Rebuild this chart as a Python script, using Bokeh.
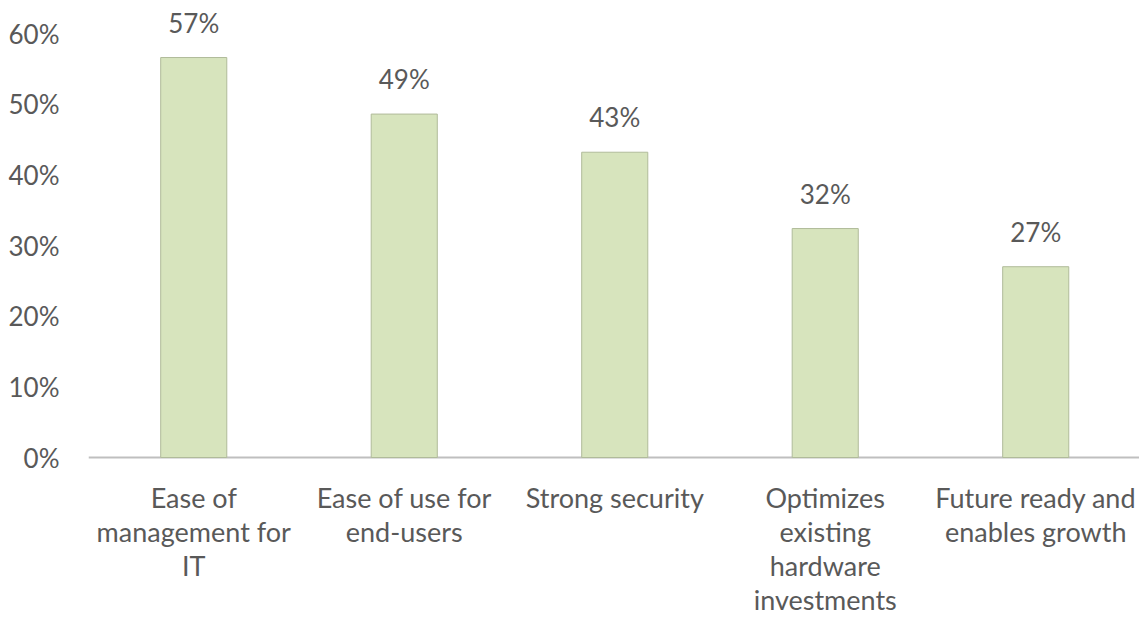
from bokeh.plotting import figure
from bokeh.models import Range1d, FixedTicker, ColumnDataSource, NumeralTickFormatter
from bokeh.embed import file_html
from bokeh.resources import INLINE
from bokeh.core.properties import value

categories = ["Ease of\nmanagement for\nIT", "Ease of use for\nend-users", "Strong security",
              "Optimizes\nexisting\nhardware\ninvestments", "Future ready and\nenables growth"]
values = [0.566, 0.486, 0.432, 0.324, 0.270]
labels = ["57%", "49%", "43%", "32%", "27%"]
y_ticks = [0, 0.1, 0.2, 0.3, 0.4, 0.5, 0.6]

n = len(categories)
xs = [i + 0.5 for i in range(n)]
src = ColumnDataSource(dict(x=xs, top=values, label=labels, cat=categories,
                            base=[0.0] * n))

FONT = "Lato"
GREY = "#595959"

p = figure(width=1139, height=617, output_backend="svg", toolbar_location=None,
           x_range=Range1d(0, 4.993), y_range=Range1d(-0.2264, 0.6467),
           min_border_left=88, min_border_right=0, min_border_top=0, min_border_bottom=0)
p.outline_line_color = None
p.grid.grid_line_color = None
p.xaxis.visible = False

# baseline (category axis line)
p.segment(x0=[0], y0=[0], x1=[n], y1=[0], line_color="#BFBFBF", line_width=2)

p.vbar(x="x", top="top", width=0.314, source=src, fill_color="#D7E4BD",
       line_color="#B0BB9A", line_width=1)
p.text(x="x", y="top", text="label", source=src, text_align="center",
       text_baseline="bottom", y_offset=-19, text_font=value(FONT),
       text_font_size="26px", text_color=GREY)

# category labels under the axis
p.text(x="x", y="base", text="cat", source=src, text_align="center",
       text_baseline="top", y_offset=23, text_font=value(FONT),
       text_font_size="27px", text_line_height=1.04, text_color=GREY)

p.yaxis.ticker = FixedTicker(ticks=y_ticks)
p.yaxis.formatter = NumeralTickFormatter(format="0%")
p.yaxis.axis_line_color = None
p.yaxis.major_tick_line_color = None
p.yaxis.minor_tick_line_color = None
p.yaxis.major_label_standoff = 23
p.yaxis.major_label_text_font = FONT
p.yaxis.major_label_text_font_size = "26px"
p.yaxis.major_label_text_color = GREY

open("out.html", "w").write(file_html(p, INLINE))
